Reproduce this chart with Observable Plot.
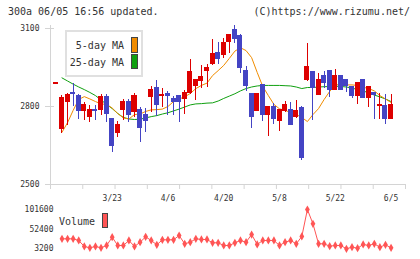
<!DOCTYPE html>
<html><head><meta charset="utf-8">
<script src="https://cdn.jsdelivr.net/npm/d3@7"></script>
<script src="https://cdn.jsdelivr.net/npm/@observablehq/plot@0.6"></script>
<style>
body{margin:0;background:#fff;}
#wrap{position:relative;width:420px;height:259px;overflow:hidden;font-family:"DejaVu Sans Mono",monospace;color:#333;background:#fff;}
#wrap svg{position:absolute;left:0;}
.t{position:absolute;font-size:10px;line-height:12px;white-space:nowrap;}
.sw{position:absolute;box-sizing:border-box;border:1px solid #444;}
</style></head><body><div id="wrap"></div>
<script>
const dates = ["3/6","3/9","3/10","3/11","3/12","3/13","3/16","3/17","3/18","3/19","3/23","3/24","3/25","3/26","3/27","3/30","3/31","4/1","4/2","4/3","4/6","4/7","4/8","4/9","4/10","4/13","4/14","4/15","4/16","4/17","4/20","4/21","4/22","4/23","4/24","4/27","4/28","4/30","5/1","5/7","5/8","5/11","5/12","5/13","5/14","5/15","5/18","5/19","5/20","5/21","5/22","5/25","5/26","5/27","5/28","5/29","6/1","6/2","6/3","6/4","6/5"];
const open  = [2886,2714,2817,2852,2840,2782,2759,2787,2785,2836,2750,2699,2785,2819,2778,2785,2768,2836,2870,2842,2847,2827,2840,2827,2853,2878,2897,2938,2962,3006,2999,3047,3096,3073,2935,2849,2782,2883,2768,2797,2746,2782,2788,2759,2793,2900,2931,2846,2919,2938,2862,2919,2900,2874,2840,2900,2832,2850,2800,2800,2750];
const high  = [2890,2842,2851,2890,2845,2817,2804,2804,2846,2846,2755,2743,2827,2827,2849,2797,2793,2878,2900,2870,2859,2840,2842,2862,2981,2905,2958,2960,3058,3045,3063,3078,3111,3075,2954,2850,2850,2885,2799,2810,2787,2819,2814,2823,2801,3043,2933,2926,2935,2940,2942,2921,2901,2875,2891,2901,2875,2850,2849,2846,2846];
const low   = [2886,2695,2727,2800,2750,2746,2740,2746,2765,2740,2624,2682,2746,2740,2759,2660,2701,2778,2762,2796,2765,2765,2740,2768,2845,2823,2868,2874,2958,2962,2983,3005,3043,2928,2859,2717,2780,2743,2686,2731,2704,2776,2725,2753,2592,2897,2746,2843,2870,2836,2860,2863,2855,2832,2808,2830,2797,2750,2750,2731,2750];
const close = [2890,2833,2846,2848,2782,2804,2785,2783,2836,2772,2647,2727,2819,2768,2842,2717,2746,2865,2804,2846,2839,2819,2817,2853,2931,2900,2915,2947,3000,2983,3045,3076,3060,2947,2877,2759,2849,2768,2797,2750,2785,2804,2730,2781,2601,2950,2870,2900,2890,2862,2919,2865,2877,2842,2890,2832,2874,2846,2804,2750,2804];
const ma5   = [null,2701,2738,2785,2827,2838,2829,2819,2810,2808,2794,2773,2756,2752,2769,2771,2781,2787,2788,2790,2800,2819,2829,2837,2850,2869,2881,2890,2919,2938,2958,2985,3013,3026,3015,2988,2931,2877,2842,2808,2791,2785,2777,2769,2758,2742,2769,2792,2827,2858,2883,2885,2883,2883,2881,2874,2869,2860,2842,2829,2815];
const ma25  = [null,2910,2898,2886,2875,2865,2854,2842,2825,2808,2792,2773,2758,2752,2750,2751,2756,2761,2765,2771,2776,2783,2790,2798,2806,2810,2811,2813,2814,2821,2831,2840,2849,2860,2869,2875,2879,2881,2881,2881,2881,2880,2879,2875,2869,2873,2873,2875,2876,2877,2878,2877,2875,2871,2865,2860,2852,2844,2837,2829,2819];
const volume = [null,28200,28200,28200,24000,9000,5700,9000,5700,11500,32200,11500,11500,24000,9000,19700,33200,24000,13200,25700,25700,25700,36500,15700,19700,28200,26500,26500,18200,18200,11500,11500,18200,24000,19700,39000,14000,24000,24000,24000,11500,19700,24000,15700,34000,101600,65700,15700,15700,9700,11500,11500,3200,7200,4700,14000,11500,15700,7200,13200,5700];
const dateTicks = ["3/23","4/6","4/20","5/8","5/22","6/5"];
const priceTicks = [2500, 2800, 3100];
const volumeTicks = [3200, 52400, 101600];

const rows = dates.map((d, k) => ({k, d, o: open[k], h: high[k], l: low[k], c: close[k], m5: ma5[k], m25: ma25[k], v: volume[k]}));
const RED = "#dd0000", BLUE = "#4444c4", ORANGE = "#f08c00", GREEN = "#10a010", VOL = "#ff5555", AX = "#d4d4d4";
const col = r => r.c >= r.o ? RED : BLUE;
const xDomain = [-1.0615, 62.59];
const gridIdx = d3.range(12).map(j => xDomain[0] + j * (xDomain[1] - xDomain[0]) / 11);
const FONT = "DejaVu Sans Mono";
const plain = d => String(d);

const main = Plot.plot({
  width: 420, height: 205, marginLeft: 50, marginRight: 15, marginTop: 25, marginBottom: 21,
  style: {fontFamily: FONT, fontSize: "8px", background: "transparent", color: "#333"},
  x: {domain: xDomain, axis: null},
  y: {domain: [2500, 3111.5], axis: null},
  color: {type: "identity"},
  marks: [
    Plot.frame({anchor: "left", stroke: AX}),
    Plot.frame({anchor: "bottom", stroke: AX}),
    Plot.ruleX(gridIdx, {x: d => d, y1: 2500, y2: 2480.8, stroke: AX}),
    Plot.tickY(priceTicks, {y: d => d, stroke: AX, insetLeft: -5, insetRight: 351}),
    Plot.axisY(priceTicks, {tickSize: 0, tickPadding: 11, tickFormat: plain, fontSize: 8, fill: "#333", label: null}),
    Plot.axisX(dateTicks.map(t => dates.indexOf(t)), {tickSize: 0, tickPadding: 11, tickFormat: k => dates[k], fontSize: 8, fill: "#333", label: null}),
    Plot.line(rows.filter(r => r.m25 != null), {x: "k", y: "m25", stroke: GREEN, strokeWidth: 1}),
    Plot.line(rows.filter(r => r.m5 != null), {x: "k", y: "m5", stroke: ORANGE, strokeWidth: 1}),
    Plot.ruleX(rows, {x: "k", y1: "l", y2: "h", stroke: col, shapeRendering: "crispEdges"}),
    Plot.rect(rows, {x1: r => r.k - 0.45, x2: r => r.k + 0.45, y1: "o", y2: "c", fill: col, insetTop: -0.5, insetBottom: -0.5, shapeRendering: "crispEdges"})
  ]
});
main.style.top = "0px";

const vrows = rows.filter(r => r.v != null);
const vol = Plot.plot({
  width: 420, height: 59, marginLeft: 50, marginRight: 15, marginTop: 9, marginBottom: 10.7,
  style: {fontFamily: FONT, fontSize: "8px", background: "transparent", color: "#333"},
  x: {domain: xDomain, axis: null},
  y: {domain: [3200, 101600], axis: null},
  marks: [
    Plot.axisY(volumeTicks, {tickSize: 0, tickPadding: 0, dx: 3, tickFormat: plain, fontSize: 8, fill: "#333", label: null}),
    Plot.line(vrows, {x: "k", y: "v", stroke: VOL, strokeWidth: 1}),
    Plot.dot(vrows, {x: "k", y: "v", symbol: "diamond", r: 2.5, fill: VOL})
  ]
});
vol.style.top = "200px";

const wrap = document.getElementById("wrap");
wrap.appendChild(main);
wrap.appendChild(vol);

function el(cls, css, text) {
  const e = document.createElement("div");
  e.className = cls; e.style.cssText = css;
  if (text != null) e.textContent = text;
  wrap.appendChild(e); return e;
}
el("t", "left:8px;top:6px;", "300a 06/05 16:56 updated.");
el("t", "right:10px;top:6px;", "(C)https://www.rizumu.net/");
el("", "position:absolute;left:65px;top:30px;width:78px;height:47px;box-sizing:border-box;border:2px solid #e0e0e0;background:#fff;");
el("t", "left:60px;width:64px;text-align:right;top:40px;", "5-day MA");
el("t", "left:60px;width:64px;text-align:right;top:56.5px;", "25-day MA");
el("sw", `left:131px;top:37px;width:7px;height:16px;background:${ORANGE};`);
el("sw", `left:131px;top:54px;width:7px;height:15px;background:${GREEN};`);
el("t", "left:59px;top:215.5px;", "Volume");
el("sw", `left:101.5px;top:213px;width:6.5px;height:15px;background:${VOL};`);
</script></body></html>
